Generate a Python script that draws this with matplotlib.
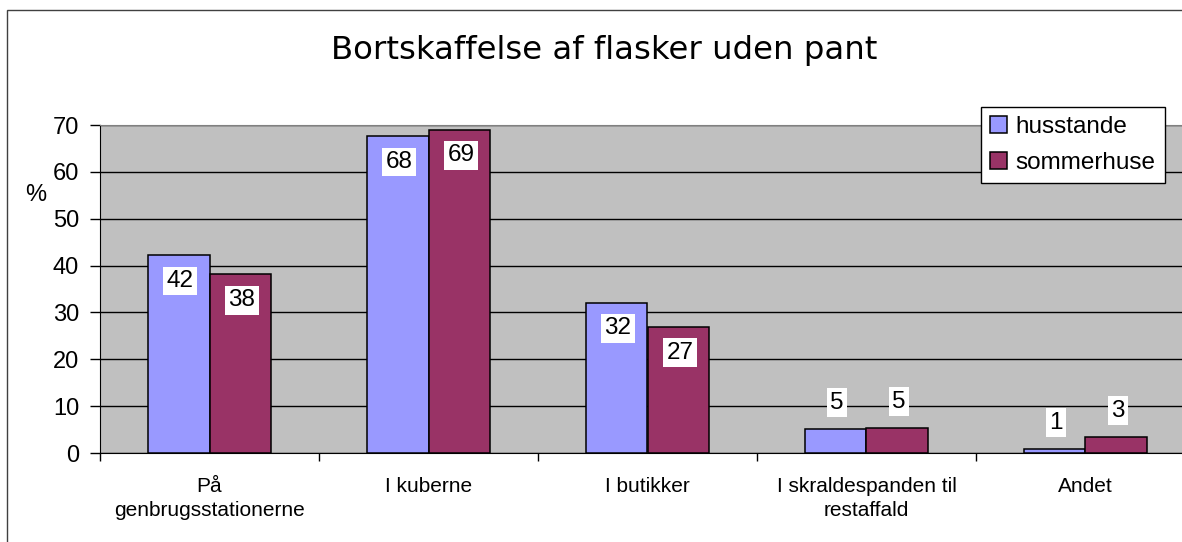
import matplotlib
matplotlib.use("Agg")
import matplotlib.pyplot as plt
from matplotlib.patches import Rectangle
import numpy as np

categories = ["På\ngenbrugsstationerne", "I kuberne", "I butikker",
              "I skraldespanden til\nrestaffald", "Andet"]
husstande = [42.2, 67.6, 32.1, 5.1, 0.8]
sommerhuse = [38.1, 69.0, 26.9, 5.3, 3.4]
husstande_labels = [42, 68, 32, 5, 1]
sommerhuse_labels = [38, 69, 27, 5, 3]
series_names = ["husstande", "sommerhuse"]
yticks = [0, 10, 20, 30, 40, 50, 60, 70]
title = "Bortskaffelse af flasker uden pant"

W, H = 1182, 542
fig = plt.figure(figsize=(W / 100, H / 100), dpi=100)
fig.patch.set_facecolor("white")

# outer chart frame (cropped on right/bottom)
fig.patches.append(Rectangle((7 / W, -0.05), 1.2, 1 - 10 / H + 0.05,
                             transform=fig.transFigure, fill=False,
                             edgecolor="#404040", lw=1.0))

left, right, top, bottom = 100, 1195, 125, 453
ax = fig.add_axes([left / W, 1 - bottom / H, (right - left) / W, (bottom - top) / H])
ax.set_facecolor("#C0C0C0")

x = np.arange(len(categories))
w = 0.283
colors = ["#9999FF", "#993366"]
b1 = ax.bar(x - w / 2, husstande, w, color=colors[0], edgecolor="black", lw=1.1,
            label=series_names[0], zorder=3)
b2 = ax.bar(x + w / 2, sommerhuse, w, color=colors[1], edgecolor="black", lw=1.1,
            label=series_names[1], zorder=3)

ax.set_xlim(-0.5, len(categories) - 0.5)
ax.set_ylim(0, 70)
ax.set_yticks(yticks)
ax.yaxis.grid(True, color="black", lw=1.0, zorder=0)
ax.set_axisbelow(True)

ax.set_xticks(x)
ax.set_xticklabels(categories, fontsize=15, family="Liberation Sans", linespacing=1.35)
ax.set_xticks(np.arange(len(categories) + 1) - 0.5, minor=True)
ax.tick_params(axis="x", which="major", length=0, pad=17)
ax.tick_params(axis="x", which="minor", length=6, width=1, color="black", direction="out")
ax.tick_params(axis="y", length=7, width=1, direction="out", pad=8, labelsize=17)
for t in ax.get_yticklabels():
    t.set_family("Liberation Sans")

ax.spines["top"].set_color("#808080")
ax.spines["right"].set_visible(False)
ax.spines["left"].set_color("black")
ax.spines["bottom"].set_color("black")

def add_labels(bars, labels):
    for rect, lab in zip(bars, labels):
        h = rect.get_height()
        cx = rect.get_x() + rect.get_width() / 2
        if h >= 10:
            off = -18.5
        else:
            off = 19
        ax.annotate(str(lab), (cx, h), xytext=(1, off), textcoords="offset points",
                    ha="center", va="center", fontsize=17.5, family="Liberation Sans",
                    bbox=dict(boxstyle="square,pad=0.14", fc="white", ec="none"),
                    zorder=5)

add_labels(b1, husstande_labels)
add_labels(b2, sommerhuse_labels)

fig.text(604 / W, 1 - 51 / H, title, ha="center", va="center", fontsize=23.3,
         family="DejaVu Sans")
fig.text(36 / W, 1 - 195 / H, "%", ha="center", va="center", fontsize=17,
         family="Liberation Sans")

leg = ax.legend(loc="upper left", bbox_to_anchor=(981 / W, 1 - 107 / H),
                bbox_transform=fig.transFigure, borderaxespad=0,
                prop={"family": "Liberation Sans", "size": 17.5},
                frameon=True, fancybox=False, shadow=False, framealpha=1,
                edgecolor="black", facecolor="white",
                handlelength=0.7, handleheight=0.7, handletextpad=0.35,
                labelspacing=0.55, borderpad=0.38)
leg.get_frame().set_linewidth(1.0)
leg.set_zorder(10)

fig.savefig("out.png", dpi=100)
